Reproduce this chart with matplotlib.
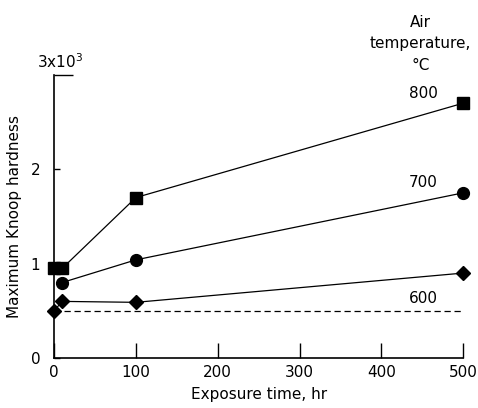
import matplotlib
matplotlib.use("Agg")
import matplotlib.pyplot as plt

# ====== data ======
t_800 = [0, 10, 100, 500]
h_800 = [0.95, 0.95, 1.70, 2.70]

t_700 = [10, 100, 500]
h_700 = [0.80, 1.04, 1.75]

t_600 = [0, 10, 100, 500]
h_600 = [0.50, 0.60, 0.59, 0.90]

t_base = [0, 500]
h_base = [0.50, 0.50]

x_ticks = [0, 100, 200, 300, 400, 500]
y_ticks = [0, 1, 2, 3]
y_ticklabels = ["0", "1", "2", ""]

plt.rcParams["font.family"] = ["DejaVu Sans"]
FS = 11

fig = plt.figure(figsize=(4.78, 4.08), dpi=100)
ax = fig.add_axes([0.113, 0.1225, 0.856, 0.694])

ax.plot(t_800, h_800, color="black", lw=0.9, marker="s", ms=9, clip_on=False)
ax.plot(t_700, h_700, color="black", lw=0.9, marker="o", ms=8.5, clip_on=False)
ax.plot(t_600, h_600, color="black", lw=0.9, marker="D", ms=7.5, clip_on=False)
ax.plot(t_base, h_base, color="black", lw=0.9, ls=(0, (5, 3)), clip_on=False)

ax.set_xlim(0, 500)
ax.set_ylim(0, 3)
ax.set_xticks(x_ticks)
ax.set_yticks(y_ticks)
ax.set_yticklabels(y_ticklabels)

for spine in ["top", "right"]:
    ax.spines[spine].set_visible(False)
for spine in ["left", "bottom"]:
    ax.spines[spine].set_linewidth(1.2)

ax.tick_params(axis="x", direction="in", length=11, width=1.0, labelsize=FS, pad=5)
ax.tick_params(axis="y", direction="in", length=4.5, width=1.0, labelsize=FS, pad=10)
# longer tick at the top of the y axis
ax.yaxis.get_major_ticks()[-1].tick1line.set_markersize(14)

ax.text(0.016, 1.015, "3x10$^3$", transform=ax.transAxes, ha="center", va="bottom",
        fontsize=FS)

ax.set_xlabel("Exposure time, hr", fontsize=FS, labelpad=5)
ax.set_ylabel("Maximum Knoop hardness", fontsize=FS, labelpad=6)

# curve labels
ax.text(451, 2.80, "800", ha="center", va="center", fontsize=FS)
ax.text(451, 1.86, "700", ha="center", va="center", fontsize=FS)
ax.text(451, 0.63, "600", ha="center", va="center", fontsize=FS)
ax.text(448, 3.02, "Air\ntemperature,\n°C", ha="center", va="bottom",
        fontsize=FS, linespacing=1.55)

fig.savefig("out.png", dpi=100)
